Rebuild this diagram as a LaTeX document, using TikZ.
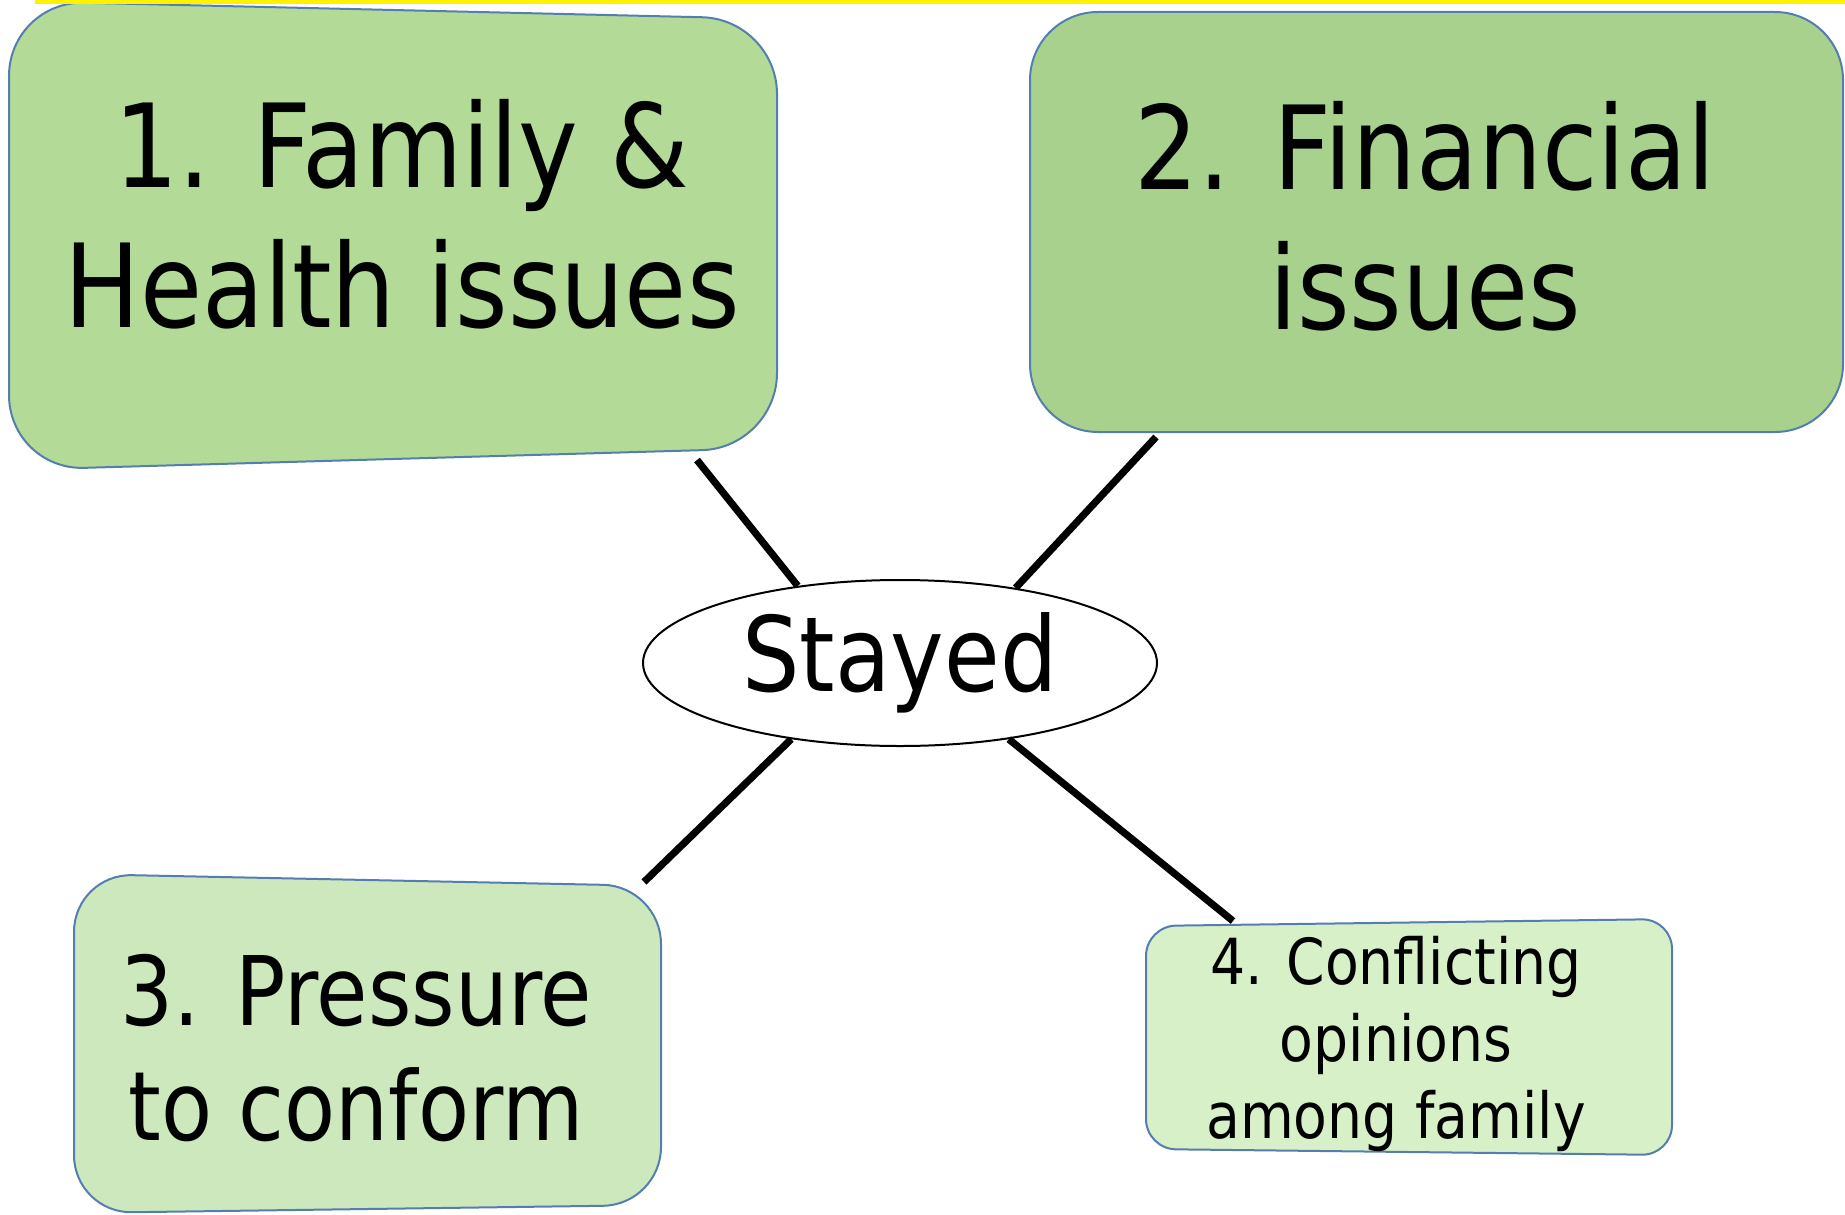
\documentclass[tikz,border=0pt]{standalone}
\usepackage{fontspec}
\newfontfamily\tah[FakeStretch=0.87]{DejaVu Sans}
\usetikzlibrary{shapes.geometric}
\definecolor{gA}{RGB}{179,218,150}
\definecolor{gB}{RGB}{169,209,142}
\definecolor{gC}{RGB}{205,232,189}
\definecolor{gD}{RGB}{215,240,199}
\definecolor{bord}{RGB}{84,126,176}
\begin{document}
\begin{tikzpicture}[x=0.5pt,y=-0.5pt,
  boxline/.style={draw=bord, line width=1pt},
  conn/.style={line width=3.6pt, black},
  lbl/.style={align=center, inner sep=0pt, text=black}]
\useasboundingbox (0,0) rectangle (1845,1214);
% boxes
\filldraw[boxline, fill=gA, rounded corners=37.5pt] (9,1) -- (777,19) -- (777,448) -- (9,470) -- cycle;
\filldraw[boxline, fill=gB, rounded corners=34pt] (1030,12) -- (1843,12) -- (1843,432) -- (1030,432) -- cycle;
\filldraw[boxline, fill=gC, rounded corners=29pt] (74,874) -- (661,886) -- (661,1205) -- (74,1213) -- cycle;
\filldraw[boxline, fill=gD, rounded corners=15pt] (1146,926) -- (1672,919) -- (1672,1155) -- (1146,1149) -- cycle;
\fill[yellow] (35,0) rectangle (1845,4);
% labels
\node[lbl, font=\tah\fontsize{58}{70}\selectfont] (b1) at (402,214) {1. Family \&\\Health issues};
\node[lbl, font=\tah\fontsize{58}{70}\selectfont] (b2) at (1425,216) {2. Financial\\issues};
\node[lbl, font=\tah\fontsize{48}{57.5}\selectfont] (b3) at (356,1048) {3. Pressure\\to conform};
\node[lbl, font=\tah\fontsize{31.75}{38.5}\selectfont] (b4) at (1396,1044) {4. Conflicting\\opinions\\among family};
\node[ellipse, draw, line width=1pt, minimum width=257pt, minimum height=83pt, inner sep=0pt,
  font=\tah\fontsize{52}{62}\selectfont] (stayed) at (900,663) {Stayed};
% connector ends
\coordinate (c1) at (697,460);
\coordinate (c2) at (1156,437);
\coordinate (c3) at (644,882);
\coordinate (c4) at (1233,921);
\draw[conn] (c1) -- (stayed.143);
\draw[conn] (c2) -- (stayed.33);
\draw[conn] (c3) -- (stayed.215.5);
\draw[conn] (c4) -- (stayed.325.7);
\end{tikzpicture}
\end{document}
